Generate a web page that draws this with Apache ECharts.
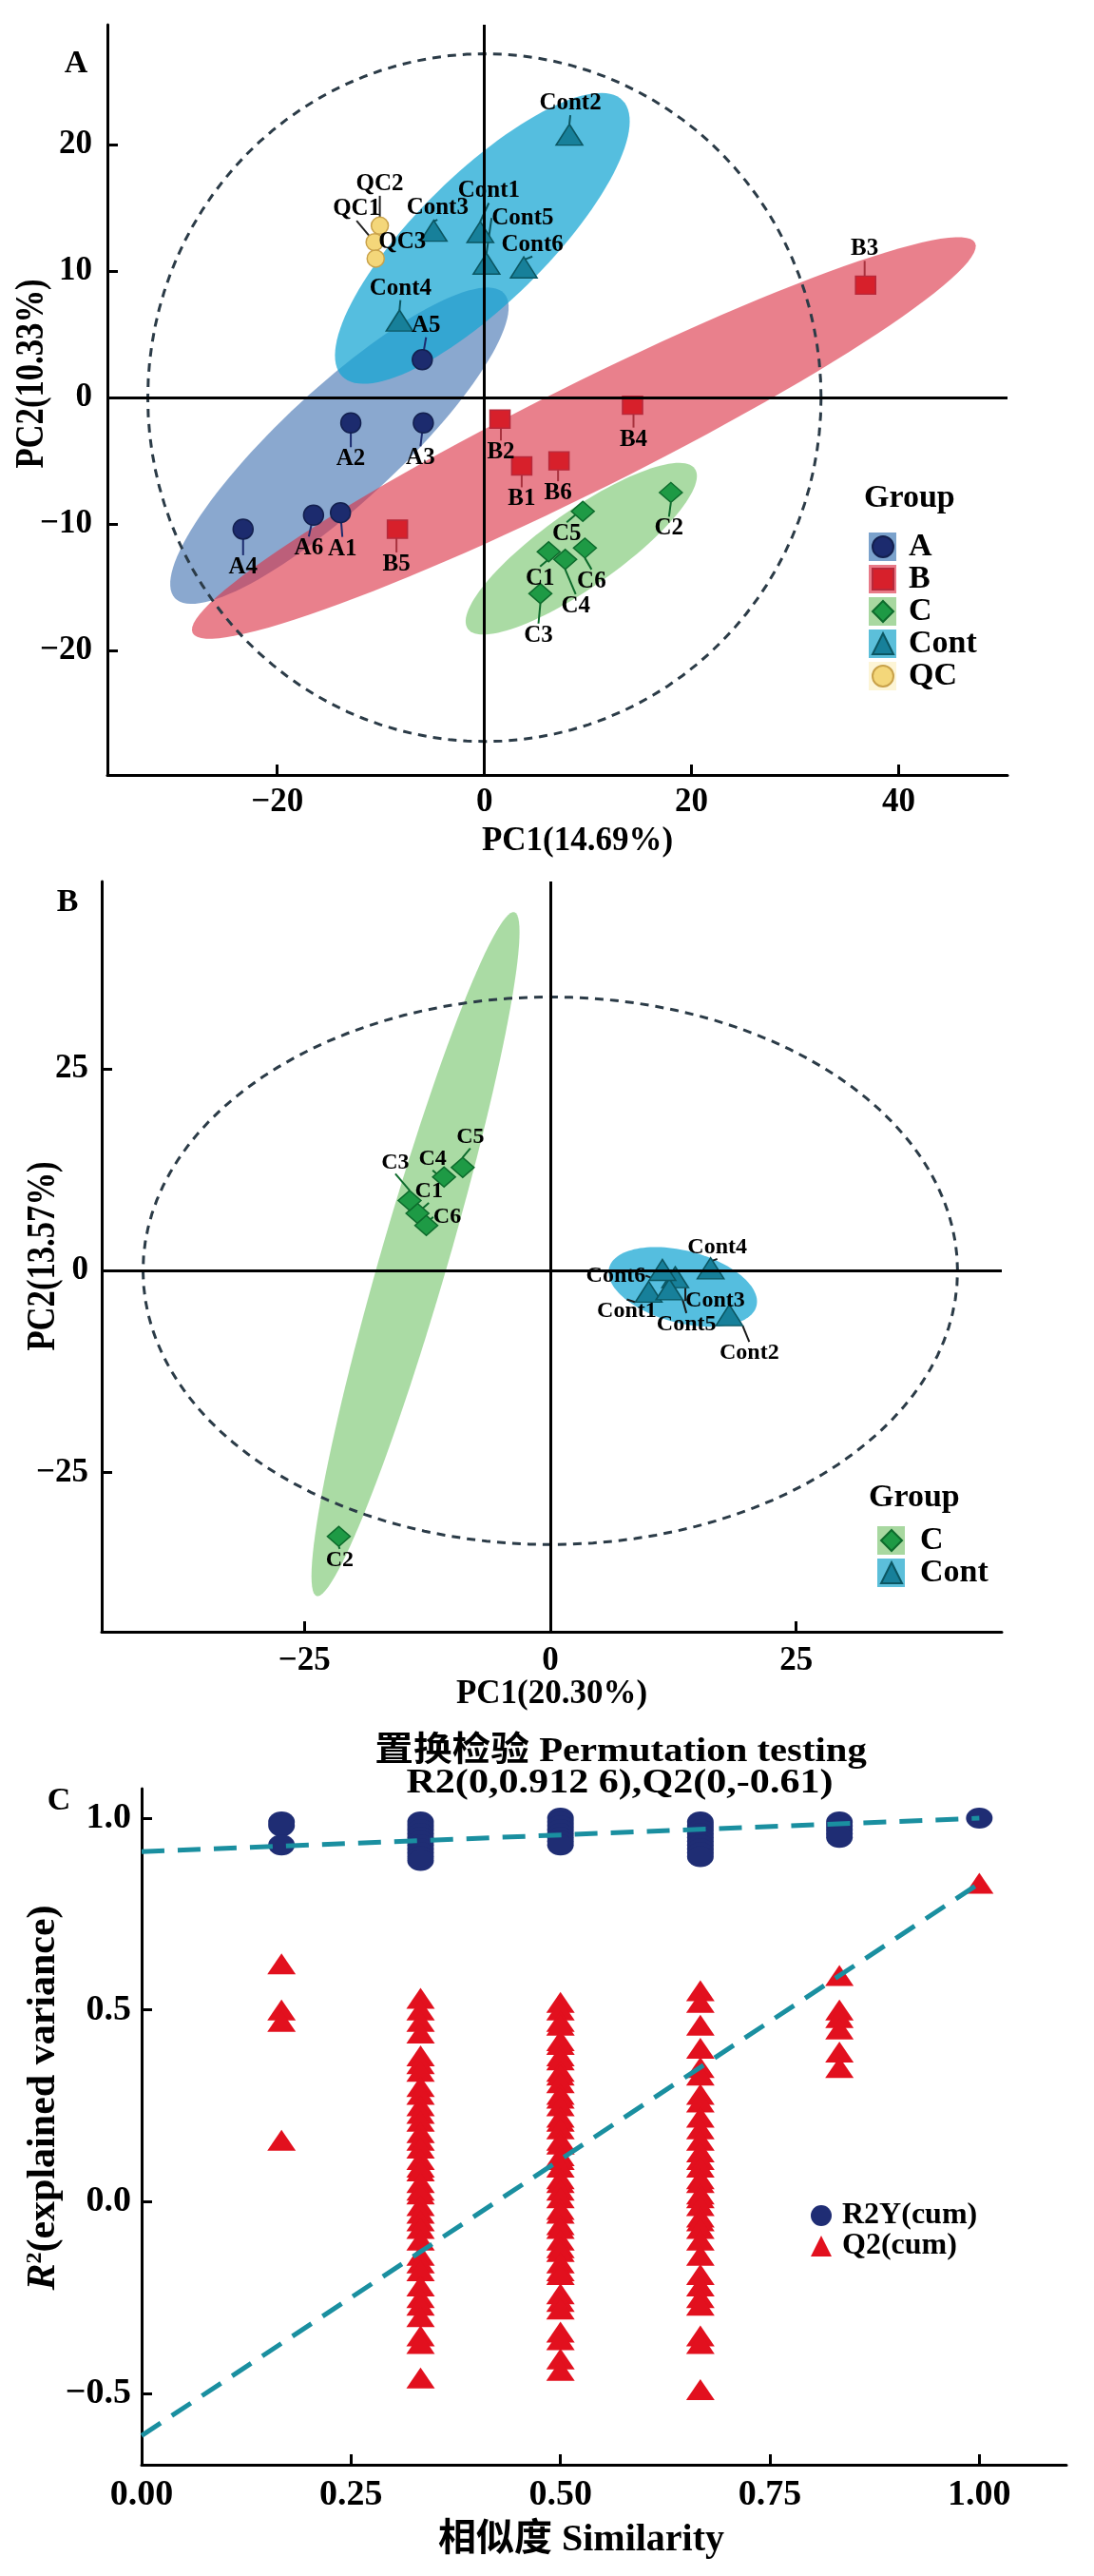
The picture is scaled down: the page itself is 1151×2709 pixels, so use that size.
<!DOCTYPE html>
<html>
<head>
<meta charset="utf-8">
<script src="https://cdn.jsdelivr.net/npm/echarts@6/dist/echarts.min.js"></script>
<style>
  html, body { margin: 0; padding: 0; background: #fff; }
  #chart { width: 1151px; height: 2709px; }
</style>
</head>
<body>
<div id="chart"></div>
<script>
const FONT = "'Liberation Serif', 'Noto Sans CJK SC', serif";

// ---- panel A : PCA scores [name, PC1, PC2] ----
const scoresA_A = [['A1', -13.9, -9.1], ['A2', -12.9, -2.0], ['A3', -5.9, -2.0], ['A4', -23.3, -10.4], ['A5', -6.0, 3.0], ['A6', -16.5, -9.3]];
const scoresA_B = [['B1', 3.6, -5.4], ['B2', 1.5, -1.7], ['B3', 36.8, 8.9], ['B4', 14.3, -0.6], ['B5', -8.4, -10.4], ['B6', 7.2, -5.0]];
const scoresA_C = [['C1', 6.2, -12.2], ['C2', 18.0, -7.5], ['C3', 5.4, -15.5], ['C4', 7.8, -12.8], ['C5', 9.5, -9.0], ['C6', 9.7, -11.9]];
const scoresA_Cont = [['Cont1', -0.4, 13.1], ['Cont2', 8.2, 20.8], ['Cont3', -4.9, 13.2], ['Cont4', -8.2, 6.1], ['Cont5', 0.2, 10.6], ['Cont6', 3.8, 10.3]];
const scoresA_QC = [['QC1', -10.6, 12.3], ['QC2', -10.1, 13.6], ['QC3', -10.5, 11.0]];

// ---- panel B : PCA scores ----
const scoresB_C = [['C1', -13.5, 7.1], ['C2', -21.5, -32.9], ['C3', -14.3, 8.7], ['C4', -10.8, 11.6], ['C5', -8.9, 12.8], ['C6', -12.6, 5.6]];
const scoresB_Cont = [['Cont1', 10.0, -2.6], ['Cont2', 18.2, -5.5], ['Cont3', 12.7, -0.8], ['Cont4', 16.3, 0.3], ['Cont5', 12.1, -2.3], ['Cont6', 11.4, 0.1]];

// ellipses: [centre x, centre y, semi-axis u (x, y), semi-axis v (x, y)] in data units
const ellA_A = [-14.0, -3.8, 15.89, 12.05, 3.80, -3.37];
const ellA_B = [9.6, -3.19, 37.77, 15.43, 2.29, -3.77];
const ellA_C = [9.35, -11.95, 10.96, 6.33, 2.12, -2.46];
const ellA_Cont = [-0.2, 12.6, 13.54, 10.91, 4.37, -3.65];
const ellA_T2 = [0, 0, 32.5, 0, 0, 27.2];
const ellB_C = [-13.7, 2.06, 10.05, 42.33, 3.29, -1.16];
const ellB_Cont = [13.47, -2.0, 7.49, -2.36, -0.92, -4.33];
const ellB_T2 = [0, 0, 41.4, 0, 0, 33.9];

// ---- panel C : permutation test ----
const similarity = [0.167, 0.333, 0.5, 0.667, 0.833, 1.0];
const r2yCum = [
  [0.99, 0.98, 0.93],
  [0.99, 0.98, 0.97, 0.96, 0.95, 0.94, 0.93, 0.92, 0.91, 0.90, 0.89],
  [1.00, 0.99, 0.98, 0.97, 0.96, 0.95, 0.94, 0.93],
  [0.99, 0.98, 0.97, 0.96, 0.95, 0.94, 0.93, 0.92, 0.91, 0.90],
  [0.99, 0.98, 0.97, 0.96, 0.95],
  [1.00]
];
const q2Cum = [
  [0.62, 0.50, 0.47, 0.16],
  [0.53, 0.50, 0.47, 0.44, 0.38, 0.36, 0.34, 0.30, 0.28, 0.25, 0.23, 0.21, 0.18, 0.16, 0.14, 0.11, 0.09, 0.08, 0.05,
   0.03, 0.02, -0.01, -0.03, -0.05, -0.07, -0.10, -0.14, -0.16, -0.18, -0.22, -0.25, -0.27, -0.30, -0.35, -0.37, -0.46],
  [0.52, 0.50, 0.47, 0.46, 0.42, 0.41, 0.38, 0.37, 0.34, 0.33, 0.31, 0.28, 0.27, 0.25, 0.22, 0.21, 0.19, 0.16, 0.15,
   0.12, 0.11, 0.09, 0.06, 0.05, 0.03, 0.01, -0.02, -0.03, -0.06, -0.07, -0.10, -0.12, -0.13, -0.16, -0.18, -0.19,
   -0.24, -0.26, -0.28, -0.34, -0.36, -0.41, -0.44],
  [0.55, 0.52, 0.46, 0.40, 0.35, 0.33, 0.28, 0.26, 0.22, 0.19, 0.16, 0.13, 0.11, 0.09, 0.06, 0.05, 0.02, 0.01,
   -0.01, -0.04, -0.05, -0.07, -0.10, -0.14, -0.19, -0.22, -0.25, -0.27, -0.35, -0.37, -0.49],
  [0.59, 0.50, 0.48, 0.45, 0.39, 0.35],
  [0.83]
];
const r2Fit = [[0, 0.9126], [1, 1.0]];
const q2Fit = [[0, -0.61], [1, 0.83]];

// tick values
const ticksAx = [-20, 0, 20, 40];
const ticksAy = [-20, -10, 0, 10, 20];
const ticksBx = [-25, 0, 25];
const ticksBy = [-25, 0, 25];
const ticksCx = [0, 0.25, 0.5, 0.75, 1.0];
const ticksCy = [-0.5, 0, 0.5, 1.0];

// label nudges (px) for the sample names
const nudgeA = {
  A1: [2, 38], A2: [0, 38], A3: [-3, 37], A4: [0, 40], A5: [4, -36], A6: [-5, 35],
  B1: [0, 35], B2: [1, 35], B3: [-1, -38], B4: [1, 36], B5: [-1, 37], B6: [-1, 34],
  C1: [-9, 28], C2: [-2, 38], C3: [-2, 44], C4: [11, 49], C5: [-17, 24], C6: [7, 35],
  Cont1: [9, -43], Cont2: [1, -33], Cont3: [4, -24], Cont4: [1, -34], Cont5: [38, -48], Cont6: [9, -24],
  QC1: [-19, -35], QC2: [0, -44], QC3: [28, -17]
};
const nudgeB = {
  C1: [12, -23], C2: [1, 25], C3: [-15, -40], C4: [-12, -19], C5: [8, -32], C6: [22, -9],
  Cont1: [-23, 20], Cont2: [21, 40], Cont3: [42, 25], Cont4: [7, -22], Cont5: [18, 37], Cont6: [-49, 6]
};

const minus = v => String(v).replace('-', '\u2212');

function axis(dim, grid, min, max, ticks, fmt, name, gap, pad, nameSize, margin, size) {
  return {
    type: 'value', gridIndex: grid, min: min, max: max,
    position: dim === 'x' ? 'bottom' : 'left',
    name: name, nameLocation: 'middle', nameGap: gap,
    nameTextStyle: { fontFamily: FONT, fontWeight: 'bold', fontSize: nameSize, color: '#000', padding: pad },
    axisLine: { show: true, onZero: false, lineStyle: { color: '#000', width: 3 } },
    axisTick: { show: true, inside: true, length: 11, customValues: ticks, lineStyle: { color: '#000', width: 3 } },
    axisLabel: { customValues: ticks, formatter: fmt, margin: margin, fontFamily: FONT, fontWeight: 'bold', fontSize: size, color: '#000' },
    splitLine: { show: false }
  };
}

function ellipse(grid, par, fill, dashed) {
  return {
    type: 'custom', xAxisIndex: grid, yAxisIndex: grid, z: dashed ? 2 : 1, silent: true,
    data: [par],
    renderItem: function (params, api) {
      const v = [0, 1, 2, 3, 4, 5].map(i => api.value(i));
      const pts = [];
      for (let k = 0; k <= 120; k++) {
        const t = k / 120 * Math.PI * 2;
        pts.push(api.coord([v[0] + v[2] * Math.cos(t) + v[4] * Math.sin(t),
                            v[1] + v[3] * Math.cos(t) + v[5] * Math.sin(t)]));
      }
      return dashed
        ? { type: 'polyline', shape: { points: pts }, style: { fill: null, stroke: '#2b3b47', lineWidth: 3, lineDash: [9, 7] } }
        : { type: 'polygon', shape: { points: pts }, style: { fill: fill } };
    }
  };
}

function group(name, rows, grid, symbol, size, fill, edge, lineColor, nudge, fontSize) {
  return {
    type: 'scatter', name: name, xAxisIndex: grid, yAxisIndex: grid, z: 4,
    symbol: symbol, symbolSize: size,
    itemStyle: { color: fill, borderColor: edge, borderWidth: 1.5, opacity: 1 },
    data: rows.map(r => ({ name: r[0], value: [r[1], r[2]] })),
    label: { show: true, position: 'inside', formatter: '{b}', color: '#000', fontFamily: FONT, fontWeight: 'bold',
      fontSize: fontSize, textBorderWidth: 0 },
    labelLine: { show: true, lineStyle: { color: lineColor, width: 2 } },
    labelLayout: function (p) { const d = nudge[p.text] || [0, 0]; return { dx: d[0], dy: d[1] }; },
    emphasis: { disabled: true }
  };
}

function zeroLines(grid) {
  return {
    type: 'line', xAxisIndex: grid, yAxisIndex: grid, data: [], z: 3, silent: true,
    markLine: { silent: true, symbol: 'none', label: { show: false },
      lineStyle: { color: '#000', width: 3, type: 'solid' },
      data: [{ xAxis: 0 }, { yAxis: 0 }] }
  };
}

// rotated axis title placed as text
function yTitle(x, y, text, size, squeeze, rich) {
  return { type: 'text', x: x, y: y, rotation: Math.PI / 2, scaleX: squeeze, z: 10,
    style: { text: text, font: 'bold ' + size + 'px ' + FONT, fill: '#000', align: 'center', verticalAlign: 'middle', rich: rich } };
}
function plainText(x, y, text, size, align, stretch) {
  return { type: 'text', x: x, y: y, scaleX: stretch || 1, z: 10,
    style: { text: text, font: 'bold ' + size + 'px ' + FONT, fill: '#000', align: align, verticalAlign: 'middle' } };
}

const pts = (lv, vals) => lv.flatMap((s, i) => vals[i].map(v => [s, v]));

const keyText = { fontFamily: FONT, fontWeight: 'bold', fontSize: 34, lineHeight: 34, color: '#000' };
const clear = Object.assign({}, keyText, { color: 'rgba(0,0,0,0)' });

const option = {
  animation: false,
  backgroundColor: '#fff',
  grid: [
    { left: 113, top: 26, width: 947, height: 789 },
    { left: 107, top: 927, width: 947, height: 789 },
    { left: 149, top: 1881, width: 973, height: 711 }
  ],
  xAxis: [
    axis('x', 0, -36.4, 50.5, ticksAx, minus, 'PC1(14.69%)', 52, [0, 0, 0, 42], 35, 11, 35),
    axis('x', 1, -45.6, 45.9, ticksBx, minus, 'PC1(20.30%)', 47, 0, 35, 13, 35),
    axis('x', 2, 0, 1.104, ticksCx, v => v.toFixed(2), '相似度 Similarity', 60, [0, 48, 0, 0], 40, 13, 38)
  ],
  yAxis: [
    axis('y', 0, -29.85, 29.5, ticksAy, minus, '', 0, 0, 36, 16, 35),
    axis('y', 1, -44.7, 48.2, ticksBy, minus, '', 0, 0, 36, 14, 35),
    axis('y', 2, -0.686, 1.077, ticksCy, v => minus(v.toFixed(1)), '', 0, 0, 36, 11, 38)
  ],
  legend: [
    { orient: 'vertical', left: 909, top: 553, itemWidth: 29, itemHeight: 30, itemGap: 0, selectedMode: false,
      textStyle: clear, z: 5,
      data: [
        { name: 'A', icon: 'rect', itemStyle: { color: '#7ba2cc', borderWidth: 0 } },
        { name: 'B', icon: 'rect', itemStyle: { color: '#e87a88', borderWidth: 0 } },
        { name: 'C', icon: 'rect', itemStyle: { color: '#a8d8a0', borderWidth: 0 } },
        { name: 'Cont', icon: 'rect', itemStyle: { color: '#5cbfda', borderWidth: 0 } },
        { name: 'QC', icon: 'rect', itemStyle: { color: '#fdf5d6', borderWidth: 0 } }
      ] },
    { orient: 'vertical', left: 912, top: 553, itemWidth: 22, itemHeight: 22, itemGap: 0, selectedMode: false,
      textStyle: Object.assign({}, keyText, { padding: [0, 0, 0, 11] }), z: 6,
      data: ['A', 'B', 'C', 'Cont', 'QC'] },
    { orient: 'vertical', left: 918, top: 1598, itemWidth: 29, itemHeight: 30, itemGap: 0, selectedMode: false,
      textStyle: clear, z: 5,
      data: [
        { name: 'C', icon: 'rect', itemStyle: { color: '#a8d8a0', borderWidth: 0 } },
        { name: 'Cont', icon: 'rect', itemStyle: { color: '#5cbfda', borderWidth: 0 } }
      ] },
    { orient: 'vertical', left: 921, top: 1598, itemWidth: 22, itemHeight: 22, itemGap: 0, selectedMode: false,
      textStyle: Object.assign({}, keyText, { padding: [0, 0, 0, 14] }), z: 6,
      data: ['C', 'Cont'] },
    { orient: 'vertical', left: 848, top: 2309, itemWidth: 22, itemHeight: 22, itemGap: 0, selectedMode: false,
      textStyle: { fontFamily: FONT, fontWeight: 'bold', fontSize: 32, lineHeight: 32, color: '#000', padding: [0, 0, 0, 6] },
      data: ['R2Y(cum)', 'Q2(cum)'] }
  ],
  graphic: [
    plainText(80, 67, 'A', 34, 'center'),
    plainText(71, 949, 'B', 34, 'center'),
    plainText(62, 1894, 'C', 34, 'center'),
    plainText(909, 524, 'Group', 34, 'left'),
    plainText(914, 1575, 'Group', 34, 'left'),
    plainText(653, 1843, '置换检验 Permutation testing', 36, 'center', 1.13),
    plainText(652, 1876, 'R2(0,0.912 6),Q2(0,-0.61)', 36, 'center', 1.17),
    yTitle(34, 393, 'PC2(10.33%)', 42, 0.825),
    yTitle(46, 1321, 'PC2(13.57%)', 42, 0.825),
    yTitle(46, 2206, '{i|R}{s|2}(explained variance)', 42, 1, {
      i: { font: 'italic bold 42px ' + FONT, fill: '#000' },
      s: { font: 'bold 24px ' + FONT, fill: '#000', verticalAlign: 'top' }
    })
  ],
  series: [
    // panel A
    ellipse(0, ellA_A, 'rgba(60,110,175,0.6)'),
    ellipse(0, ellA_B, 'rgba(220,50,70,0.62)'),
    ellipse(0, ellA_C, 'rgba(100,190,90,0.55)'),
    ellipse(0, ellA_Cont, 'rgba(20,165,210,0.72)'),
    ellipse(0, ellA_T2, null, true),
    zeroLines(0),
    group('A', scoresA_A, 0, 'circle', 21, '#1c2b6e', '#13204f', '#1c2b6e', nudgeA, 25),
    group('B', scoresA_B, 0, 'rect', [21, 19], '#d7202b', '#b8283a', '#a8323e', nudgeA, 25),
    group('C', scoresA_C, 0, 'diamond', [24, 21], '#1e9a45', '#0d6b2c', '#0d6b2c', nudgeA, 25),
    group('Cont', scoresA_Cont, 0, 'triangle', [28, 22], '#17809a', '#0b5662', '#0b5662', nudgeA, 25),
    group('QC', scoresA_QC, 0, 'circle', 18, '#f4d77a', '#c9a24a', '#222', nudgeA, 25),
    // panel B
    ellipse(1, ellB_C, 'rgba(100,190,90,0.55)'),
    ellipse(1, ellB_Cont, 'rgba(20,165,210,0.72)'),
    ellipse(1, ellB_T2, null, true),
    zeroLines(1),
    group('C', scoresB_C, 1, 'diamond', [24, 21], '#1e9a45', '#0d6b2c', '#0d6b2c', nudgeB, 24),
    group('Cont', scoresB_Cont, 1, 'triangle', [28, 22], '#17809a', '#0b5662', '#1a1a1a', nudgeB, 24),
    // panel C
    { type: 'scatter', name: 'R2Y(cum)', xAxisIndex: 2, yAxisIndex: 2, z: 4, symbol: 'circle', symbolSize: [28, 22],
      itemStyle: { color: '#1f2d74', opacity: 1 }, data: pts(similarity, r2yCum), emphasis: { disabled: true } },
    { type: 'scatter', name: 'Q2(cum)', xAxisIndex: 2, yAxisIndex: 2, z: 3, symbol: 'triangle', symbolSize: [30, 22],
      itemStyle: { color: '#e2101e', opacity: 1 }, data: pts(similarity, q2Cum), emphasis: { disabled: true } },
    { type: 'line', xAxisIndex: 2, yAxisIndex: 2, z: 6, data: r2Fit, symbol: 'none', silent: true,
      lineStyle: { color: '#1a8fa0', width: 5, type: [24, 14] } },
    { type: 'line', xAxisIndex: 2, yAxisIndex: 2, z: 6, data: q2Fit, symbol: 'none', silent: true,
      lineStyle: { color: '#1a8fa0', width: 5, type: [24, 14] } }
  ]
};

const myChart = echarts.init(document.getElementById('chart'));
myChart.setOption(option);
window.onresize = function () { myChart.resize(); };
</script>
</body>
</html>
